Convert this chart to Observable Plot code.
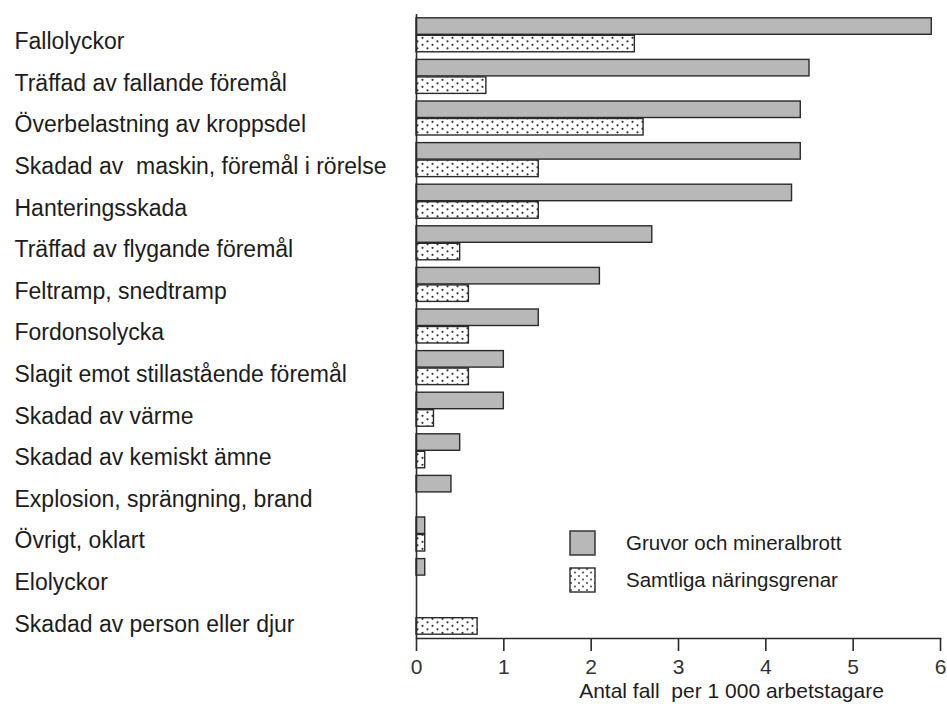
<!DOCTYPE html>
<html>
<head>
<meta charset="utf-8">
<script src="https://cdn.jsdelivr.net/npm/d3@7"></script>
<script src="https://cdn.jsdelivr.net/npm/@observablehq/plot@0.6"></script>
<style>
  html, body { margin: 0; padding: 0; background: #fff; }
  #wrap { position: relative; width: 947px; height: 712px; font-family: "Liberation Sans", Arial, sans-serif; color: #1c1c1c; }
  #legend { position: absolute; left: 569px; top: 524px; }
  .lg-row { display: flex; align-items: center; height: 37px; }
  .lg-row svg { margin-right: 30px; }
  .lg-row span { font-size: 20.5px; }
</style>
</head>
<body>
<div id="wrap"></div>
<script>
const categories = [
  "Fallolyckor",
  "Träffad av fallande föremål",
  "Överbelastning av kroppsdel",
  "Skadad av\u00a0 maskin, föremål i rörelse",
  "Hanteringsskada",
  "Träffad av flygande föremål",
  "Feltramp, snedtramp",
  "Fordonsolycka",
  "Slagit emot stillastående föremål",
  "Skadad av värme",
  "Skadad av kemiskt ämne",
  "Explosion, sprängning, brand",
  "Övrigt, oklart",
  "Elolyckor",
  "Skadad av person eller djur"
];
const series = ["Gruvor och mineralbrott", "Samtliga näringsgrenar"];
const gruvor   = [5.9, 4.5, 4.4, 4.4, 4.3, 2.7, 2.1, 1.4, 1.0, 1.0, 0.5, 0.4, 0.1, 0.1, 0];
const samtliga = [2.5, 0.8, 2.6, 1.4, 1.4, 0.5, 0.6, 0.6, 0.6, 0.2, 0.1, 0, 0.1, 0, 0.7];
const xTicks = [0, 1, 2, 3, 4, 5, 6];
const xTitle = "Antal fall\u00a0 per 1 000 arbetstagare";

const key = (c, s) => c + "|" + s;
const yDomain = categories.flatMap(c => [key(c, 0), key(c, 1)]);
const dataG = categories.map((c, i) => ({cat: c, value: gruvor[i]})).filter(d => d.value > 0);
const dataS = categories.map((c, i) => ({cat: c, value: samtliga[i]})).filter(d => d.value > 0);

const GRAY = "#b8b8b8";
const INK = "#2a2a2a";

const plot = Plot.plot({
  width: 947,
  height: 712,
  marginLeft: 416,
  marginRight: 7,
  marginTop: 14,
  marginBottom: 74,
  style: {fontFamily: "'Liberation Sans', Arial, sans-serif", color: "#1c1c1c", background: "transparent"},
  x: {domain: [0, 6], ticks: xTicks},
  y: {domain: yDomain, padding: 0, round: false, axis: null},
  marks: [
    Plot.barX(dataG, {x: "value", y: d => key(d.cat, 0), fill: GRAY, stroke: INK, strokeWidth: 1.4, insetTop: 3.8, insetBottom: 0.5}),
    Plot.barX(dataS, {x: "value", y: d => key(d.cat, 1), fill: "url(#dots)", stroke: INK, strokeWidth: 1.4, insetTop: 0.5, insetBottom: 3.8}),
    Plot.ruleX([0], {stroke: INK, strokeWidth: 1.6}),
    Plot.frame({anchor: "bottom", stroke: INK, strokeWidth: 1.6}),
    Plot.axisX({ticks: xTicks, tickSize: 13, tickPadding: 8, fontSize: 21, label: null, stroke: INK, strokeWidth: 1.6, fill: "#333", tickFormat: d => String(d)}),
    Plot.text(categories, {y: d => key(d, 0), frameAnchor: "left", textAnchor: "start", dx: -402, dy: 17, fontSize: 23, fill: "#1c1c1c"}),
    Plot.text([xTitle], {frameAnchor: "bottom", dx: 53, dy: 59, fontSize: 21, fill: "#1c1c1c"})
  ]
});

// dotted pattern definition
const svg = d3.select(plot);
const defs = svg.insert("defs", ":first-child");
const pat = defs.append("pattern").attr("id", "dots").attr("patternUnits", "userSpaceOnUse")
  .attr("width", 10).attr("height", 7).attr("x", 0).attr("y", 1);
pat.append("rect").attr("width", 10).attr("height", 7).attr("fill", "#fff");
pat.append("circle").attr("cx", 2.5).attr("cy", 1.8).attr("r", 1.1).attr("fill", "#333");
pat.append("circle").attr("cx", 7.5).attr("cy", 5.3).attr("r", 1.1).attr("fill", "#333");

const wrap = document.getElementById("wrap");
wrap.appendChild(plot);

// legend
const legend = document.createElement("div");
legend.id = "legend";
series.forEach((name, i) => {
  const row = document.createElement("div");
  row.className = "lg-row";
  const sw = i === 0
    ? `<svg width="27" height="26"><rect x="1" y="1" width="25" height="24" fill="${GRAY}" stroke="${INK}" stroke-width="1.4"/></svg>`
    : `<svg width="27" height="26"><defs><pattern id="ldots" patternUnits="userSpaceOnUse" width="8" height="7"><rect width="8" height="7" fill="#fff"/><circle cx="2" cy="2" r="0.9" fill="#333"/><circle cx="6" cy="5.5" r="0.9" fill="#333"/></pattern></defs><rect x="1" y="1" width="25" height="24" fill="url(#ldots)" stroke="${INK}" stroke-width="1.4"/></svg>`;
  row.innerHTML = sw + `<span>${name}</span>`;
  legend.appendChild(row);
});
wrap.appendChild(legend);
</script>
</body>
</html>
